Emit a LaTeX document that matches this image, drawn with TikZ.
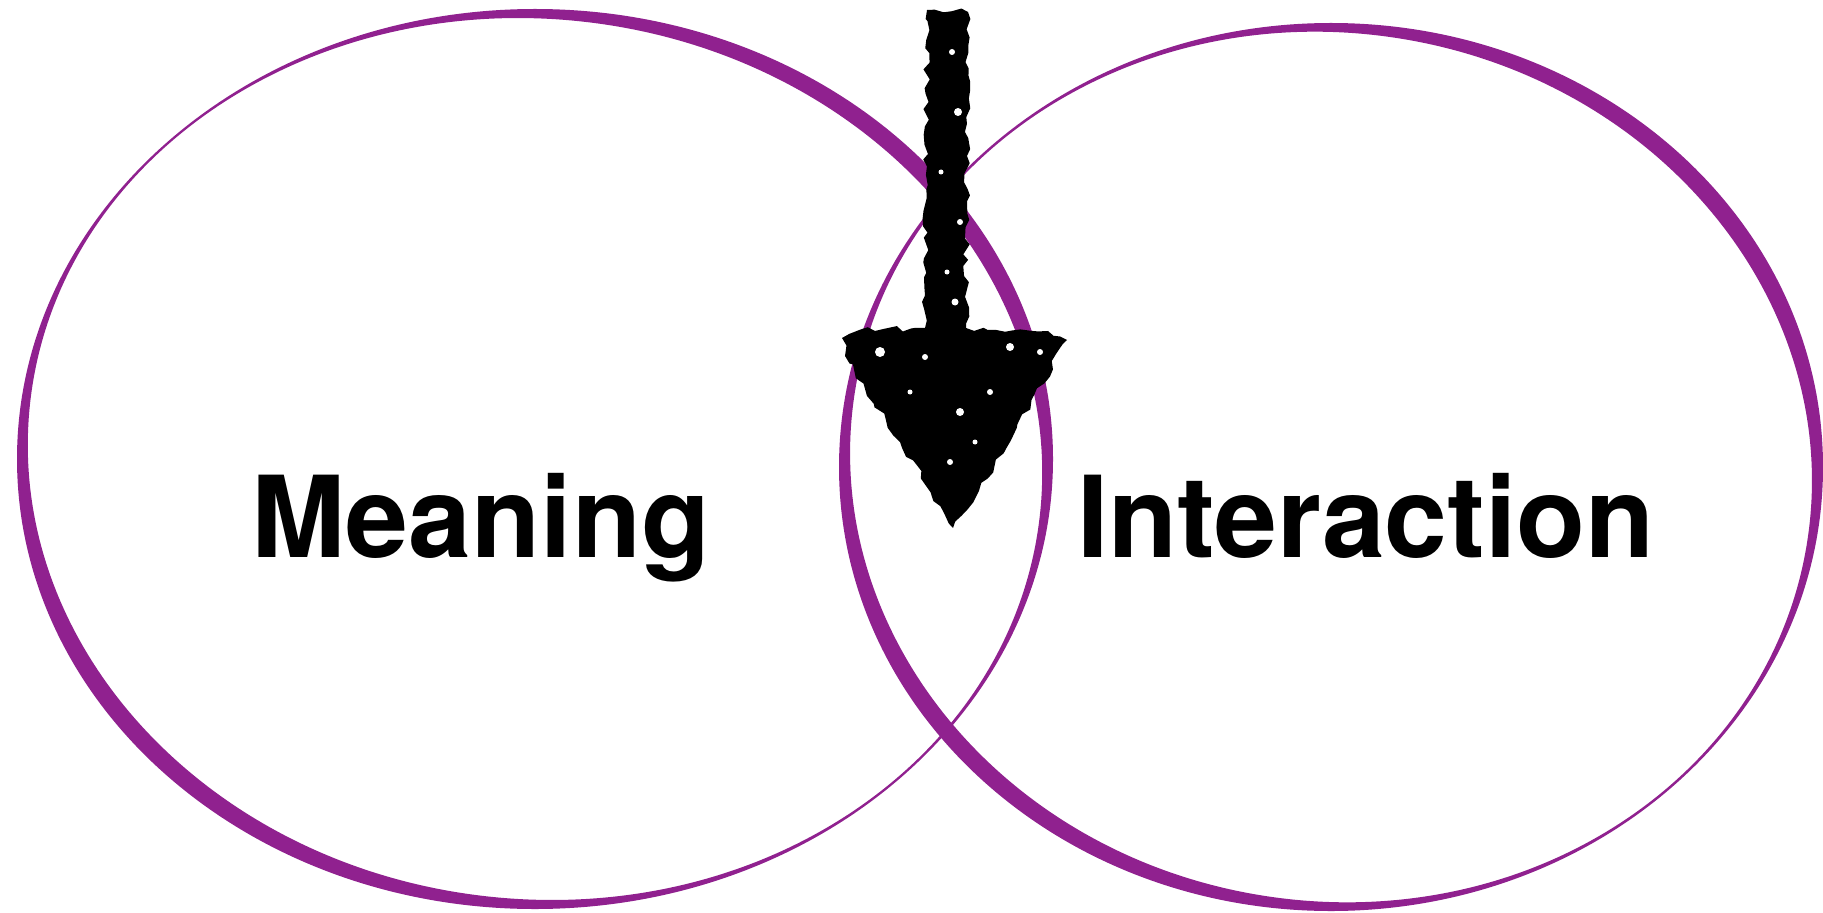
\documentclass[tikz,border=0pt]{standalone}
\usepackage{fontspec}
\setmainfont{TeX Gyre Heros}
\usepackage{tikz}
\usepackage{xcolor}
\usetikzlibrary{decorations.pathmorphing}
\definecolor{vennpurple}{RGB}{144,33,143}

\begin{document}
\begin{tikzpicture}[x=0.5pt,y=0.5pt,
  ring/.style={fill=vennpurple,even odd rule},
  word/.style={anchor=base,inner sep=0pt,font=\fontsize{56.5}{60}\selectfont\bfseries},
  ink/.style={fill=black,decorate,decoration={random steps,segment length=4pt,amplitude=1.6pt}}]
  \useasboundingbox (0,0) rectangle (1823,912);
  % two brush rings
  \fill[ring] (535,453) ellipse [x radius=518,y radius=450]
    (535,453) ellipse [x radius=508,y radius=440,rotate=-6.5];
  \fill[ring] (1331,445) ellipse [x radius=492,y radius=444]
    (1331,445) ellipse [x radius=482,y radius=434,rotate=-9];
  % labels
  \node[word] (meaning) at (481,355) {Meaning};
  \node[word] (interaction) at (1366,355) {Interaction};
  % hand drawn arrow
  \pgfmathsetseed{7}
  \fill[ink] (927,902) -- (968,900) -- (966,584) -- (1048,581) -- (1067,572)
    -- (1010,470) -- (953,384) -- (900,470) -- (845,556) -- (842,574)
    -- (862,583) -- (925,584) -- cycle;
  \foreach \x/\y/\r in {952/860/3,958/800/4,941/740/2.5,960/690/3,947/640/2.5,
      955/610/3.5,880/560/5,925/555/3,1010/565/4,1040/560/3,960/500/4,
      910/520/2.5,990/520/3,950/450/3,975/470/2.5}
    \fill[white] (\x,\y) circle [radius=\r];
\end{tikzpicture}
\end{document}
